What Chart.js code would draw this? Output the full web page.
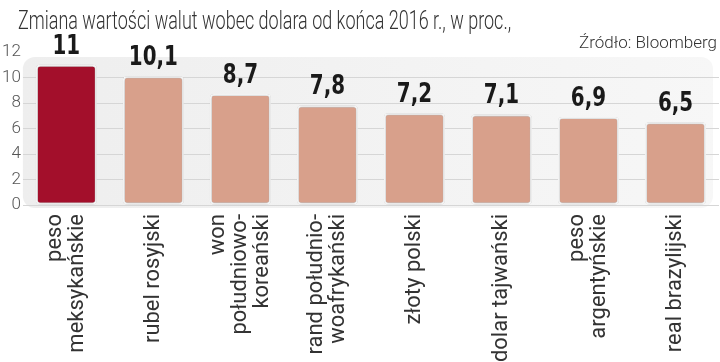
<!DOCTYPE html>
<html>
<head>
<meta charset="utf-8">
<script src="https://cdn.jsdelivr.net/npm/chart.js@4"></script>
<style>
  html, body { margin: 0; padding: 0; background: #fff; }
  #wrap { width: 720px; height: 362px; }
</style>
</head>
<body>
<div id="wrap"><canvas id="chart"></canvas></div>
<script>
const titleText = 'Zmiana wartości walut wobec dolara od końca 2016 r., w proc.,';
const sourceText = 'Źródło: Bloomberg';

const categories = [
    ['peso', 'meksykańskie'],
    ['rubel rosyjski'],
    ['won', 'południowo-', 'koreański'],
    ['rand południo-', 'woafrykański'],
    ['złoty polski'],
    ['dolar tajwański'],
    ['peso', 'argentyńskie'],
    ['real brazylijski']
];
const values = [11, 10.1, 8.7, 7.8, 7.2, 7.1, 6.9, 6.5];
const yTicks = [0, 2, 4, 6, 8, 10, 12];

const barColors = values.map((v, i) => i === 0 ? '#a30f2b' : '#d8a08b');

// background panel behind the plot
const panelPlugin = {
    id: 'panel',
    beforeDraw(chart) {
        const { ctx, chartArea: a } = chart;
        const x = a.left, y = a.top + 5, w = a.right - a.left - 6, h = a.bottom - a.top - 2;
        const g = ctx.createLinearGradient(x, 0, a.right, 0);
        g.addColorStop(0, '#eeeeee');
        g.addColorStop(1, '#f7f7f7');
        ctx.save();
        ctx.fillStyle = g;
        ctx.beginPath();
        ctx.roundRect(x, y, w, h, 12);
        ctx.fill();
        ctx.restore();
    }
};

const shadowPlugin = {
    id: 'barShadow',
    beforeDatasetsDraw(chart) {
        const ctx = chart.ctx;
        ctx.save();
        ctx.shadowColor = 'rgba(0,0,0,0.35)';
        ctx.shadowBlur = 3;
    },
    afterDatasetsDraw(chart) {
        chart.ctx.restore();
    }
};

const textPlugin = {
    id: 'texts',
    afterDraw(chart) {
        const ctx = chart.ctx;
        const meta = chart.getDatasetMeta(0);
        const xScale = chart.scales.x;
        ctx.save();
        // value labels
        ctx.fillStyle = '#1a1a1a';
        ctx.font = 'bold 26px "DejaVu Sans Condensed", "Roboto"';
        ctx.textAlign = 'center';
        ctx.textBaseline = 'bottom';
        meta.data.forEach((bar, i) => {
            const txt = String(values[i]).replace('.', ',');
            ctx.save();
            ctx.translate(bar.x, bar.y - 5);
            ctx.scale(0.85, 1);
            ctx.fillText(txt, 0, 0);
            ctx.restore();
        });
        // category labels, rotated, line block centred on the bar
        ctx.fillStyle = '#333';
        ctx.font = '22px Roboto';
        ctx.textAlign = 'right';
        ctx.textBaseline = 'middle';
        const lh = 22;
        categories.forEach((lines, i) => {
            const cx = xScale.getPixelForTick(i);
            lines.forEach((line, j) => {
                ctx.save();
                ctx.translate(cx + (j - (lines.length - 1) / 2) * lh, xScale.top + 9);
                ctx.rotate(-Math.PI / 2);
                ctx.fillText(line, 0, 0);
                ctx.restore();
            });
        });
        // title
        ctx.fillStyle = '#333';
        ctx.font = '300 25px Roboto';
        ctx.textAlign = 'left';
        ctx.textBaseline = 'alphabetic';
        ctx.save();
        ctx.translate(18, 29);
        ctx.scale(0.72, 1);
        ctx.fillText(titleText, 0, 0);
        ctx.restore();
        // source
        ctx.font = '300 17px Roboto';
        ctx.textAlign = 'right';
        ctx.fillText(sourceText, 717, 48);
        ctx.restore();
    }
};

new Chart(document.getElementById('chart'), {
    type: 'bar',
    data: {
        labels: categories,
        datasets: [{
            data: values,
            backgroundColor: barColors,
            borderColor: '#ffffff',
            borderWidth: 2,
            borderRadius: 4,
            borderSkipped: false,
            categoryPercentage: 1,
            barPercentage: 0.7
        }]
    },
    options: {
        responsive: true,
        maintainAspectRatio: false,
        animation: false,
        layout: { padding: { top: 52, left: 0, right: 1, bottom: 0 } },
        plugins: {
            legend: { display: false },
            tooltip: { enabled: false }
        },
        scales: {
            x: {
                grid: { display: false },
                border: { display: false },
                ticks: { display: false },
                afterFit(axis) { axis.height = 157; }
            },
            y: {
                min: 0,
                max: 12,
                afterBuildTicks(axis) {
                    axis.ticks = yTicks.map(v => ({ value: v }));
                },
                grid: {
                    color: c => (c.tick && c.tick.value === 12) ? 'rgba(0,0,0,0)' : '#d6d6d6',
                    drawTicks: false
                },
                border: { display: false },
                ticks: {
                    padding: 2,
                    color: '#555',
                    font: { family: 'Roboto', size: 17, weight: '300' }
                }
            }
        }
    },
    plugins: [panelPlugin, shadowPlugin, textPlugin]
});
</script>
</body>
</html>
